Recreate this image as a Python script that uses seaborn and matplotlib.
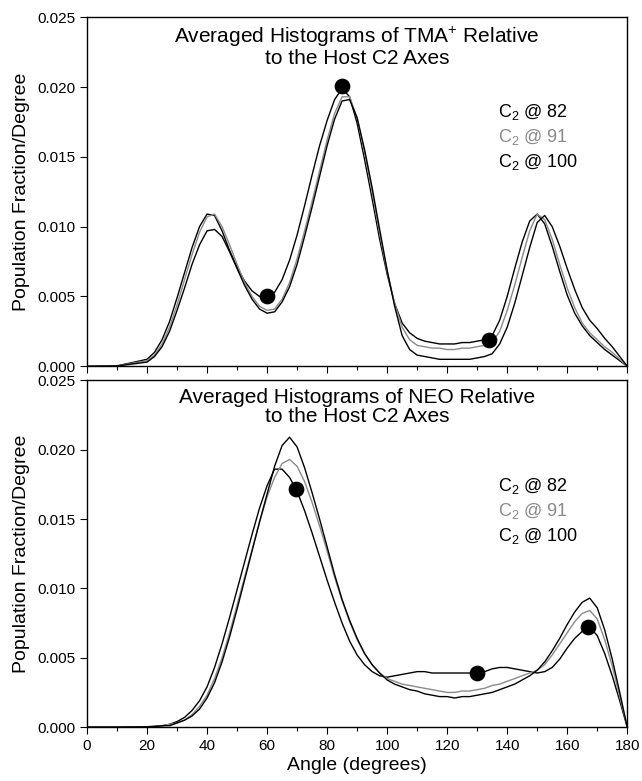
import numpy as np
import matplotlib
matplotlib.use("Agg")
import matplotlib.pyplot as plt
import seaborn as sns
from matplotlib.ticker import MultipleLocator

# angle grid (degrees)
angle = [0, 10] + [20 + 2.5 * i for i in range(65)]

# top panel: TMA+
tma_82 = [0, 0.00003, 0.0005, 0.0010, 0.0019, 0.0032, 0.0049, 0.0067, 0.0085, 0.0100,
          0.0109, 0.0108, 0.0097, 0.0083, 0.0071, 0.0061, 0.0054, 0.0050, 0.0049, 0.0053,
          0.0062, 0.0076, 0.0094, 0.0115, 0.0137, 0.0158, 0.0176, 0.0191, 0.0199, 0.0193,
          0.0174, 0.0148, 0.0120, 0.0091, 0.0066, 0.0045, 0.0031, 0.0024, 0.0020, 0.0018,
          0.0017, 0.0016, 0.0016, 0.0016, 0.0017, 0.0017, 0.0018, 0.0019, 0.0022, 0.0033,
          0.0050, 0.0070, 0.0089, 0.0104, 0.0109, 0.0102, 0.0086, 0.0068, 0.0051, 0.0038,
          0.0029, 0.0022, 0.0017, 0.0012, 0.0008, 0.0004, 0.0]
tma_91 = [0, 0.00002, 0.0004, 0.0008, 0.0016, 0.0028, 0.0044, 0.0062, 0.0080, 0.0096,
          0.0107, 0.0109, 0.0100, 0.0087, 0.0073, 0.0060, 0.0050, 0.0043, 0.0040, 0.0041,
          0.0048, 0.0060, 0.0077, 0.0097, 0.0118, 0.0140, 0.0162, 0.0181, 0.0193, 0.0193,
          0.0178, 0.0153, 0.0125, 0.0095, 0.0068, 0.0045, 0.0028, 0.0019, 0.0015, 0.0014,
          0.0013, 0.0013, 0.0012, 0.0012, 0.0013, 0.0013, 0.0014, 0.0015, 0.0017, 0.0025,
          0.0040, 0.0058, 0.0078, 0.0097, 0.0109, 0.0105, 0.0091, 0.0073, 0.0056, 0.0042,
          0.0031, 0.0024, 0.0019, 0.0014, 0.0010, 0.0005, 0.0]
tma_100 = [0, 0.00002, 0.0003, 0.0007, 0.0014, 0.0025, 0.0040, 0.0056, 0.0073, 0.0087,
           0.0097, 0.0098, 0.0093, 0.0082, 0.0070, 0.0058, 0.0048, 0.0041, 0.0038, 0.0039,
           0.0046, 0.0057, 0.0073, 0.0093, 0.0114, 0.0136, 0.0158, 0.0177, 0.0190, 0.0191,
           0.0178, 0.0155, 0.0128, 0.0098, 0.0069, 0.0043, 0.0022, 0.0012, 0.0008, 0.0007,
           0.0006, 0.0005, 0.0005, 0.0005, 0.0005, 0.0005, 0.0006, 0.0007, 0.0009, 0.0016,
           0.0028, 0.0045, 0.0065, 0.0085, 0.0103, 0.0108, 0.0100, 0.0086, 0.0070, 0.0055,
           0.0042, 0.0033, 0.0027, 0.0020, 0.0014, 0.0007, 0.0]
tma_dot_x = [60, 85, 134]
tma_dot_y = [0.0050, 0.0201, 0.0019]

# bottom panel: NEO
neo_82 = [0, 0, 0.00003, 0.00006, 0.0001, 0.0002, 0.0004, 0.0007, 0.0012, 0.0019,
          0.0029, 0.0043, 0.0060, 0.0079, 0.0099, 0.0119, 0.0139, 0.0158, 0.0174, 0.0186,
          0.0186, 0.0180, 0.0170, 0.0156, 0.0140, 0.0123, 0.0106, 0.0090, 0.0075, 0.0062,
          0.0052, 0.0045, 0.0040, 0.0037, 0.0036, 0.0037, 0.0038, 0.0039, 0.0040, 0.0040,
          0.0039, 0.0039, 0.0039, 0.0039, 0.0039, 0.0039, 0.0039, 0.0040, 0.0042, 0.0043,
          0.0043, 0.0042, 0.0041, 0.0040, 0.0039, 0.0040, 0.0043, 0.0049, 0.0057, 0.0064,
          0.0069, 0.0072, 0.0066, 0.0053, 0.0037, 0.0019, 0.0]
neo_91 = [0, 0, 0.00002, 0.00004, 0.0001, 0.0002, 0.0003, 0.0005, 0.0009, 0.0015,
          0.0023, 0.0035, 0.0050, 0.0068, 0.0088, 0.0108, 0.0128, 0.0148, 0.0166, 0.0180,
          0.0190, 0.0193, 0.0188, 0.0177, 0.0162, 0.0145, 0.0127, 0.0108, 0.0091, 0.0076,
          0.0063, 0.0053, 0.0045, 0.0039, 0.0035, 0.0033, 0.0031, 0.0030, 0.0029, 0.0028,
          0.0027, 0.0026, 0.0025, 0.0025, 0.0026, 0.0026, 0.0027, 0.0028, 0.0030, 0.0031,
          0.0033, 0.0035, 0.0037, 0.0039, 0.0041, 0.0045, 0.0052, 0.0060, 0.0068, 0.0076,
          0.0082, 0.0084, 0.0078, 0.0063, 0.0044, 0.0022, 0.0]
neo_100 = [0, 0, 0.00002, 0.00004, 0.0001, 0.0001, 0.0003, 0.0005, 0.0008, 0.0013,
           0.0021, 0.0032, 0.0047, 0.0065, 0.0085, 0.0106, 0.0127, 0.0148, 0.0168, 0.0188,
           0.0203, 0.0209, 0.0202, 0.0187, 0.0169, 0.0150, 0.0130, 0.0110, 0.0092, 0.0077,
           0.0064, 0.0053, 0.0045, 0.0039, 0.0034, 0.0031, 0.0029, 0.0027, 0.0026, 0.0024,
           0.0023, 0.0022, 0.0022, 0.0021, 0.0022, 0.0022, 0.0023, 0.0024, 0.0025, 0.0027,
           0.0029, 0.0031, 0.0034, 0.0037, 0.0041, 0.0047, 0.0055, 0.0064, 0.0074, 0.0083,
           0.0090, 0.0093, 0.0086, 0.0070, 0.0049, 0.0025, 0.0]
neo_dot_x = [69.5, 130, 167]
neo_dot_y = [0.0172, 0.0039, 0.0072]

legend_labels = ["C$_2$ @ 82", "C$_2$ @ 91", "C$_2$ @ 100"]
line_colors = ["black", "#8a8a8a", "black"]

sns.set_style("ticks")
plt.rcParams["font.family"] = ["Liberation Sans", "DejaVu Sans"]
plt.rcParams["mathtext.default"] = "regular"
plt.rcParams["text.color"] = "black"
plt.rcParams["axes.labelcolor"] = "black"
plt.rcParams["xtick.color"] = "black"
plt.rcParams["ytick.color"] = "black"

fig = plt.figure(figsize=(6.42, 7.81), dpi=100)
ax_top = fig.add_axes([0.1355, 0.531, 0.8415, 0.447])
ax_bot = fig.add_axes([0.1355, 0.069, 0.8415, 0.444])

panels = [
    (ax_top, [tma_82, tma_91, tma_100], tma_dot_x, tma_dot_y,
     "Averaged Histograms of TMA$^{+}$ Relative\nto the Host C2 Axes", [0.0182, 0.0164, 0.0146]),
    (ax_bot, [neo_82, neo_91, neo_100], neo_dot_x, neo_dot_y,
     "Averaged Histograms of NEO Relative\nto the Host C2 Axes", [0.0174, 0.0156, 0.0138]),
]

for ax, curves, dx, dy, title, leg_y in panels:
    for vals, col in zip(curves, line_colors):
        sns.lineplot(x=angle, y=vals, ax=ax, color=col, lw=1.0)
    sns.scatterplot(x=dx, y=dy, ax=ax, color="black", s=110, edgecolor="black", zorder=5)
    ax.set_xlim(0, 180)
    ax.set_ylim(0, 0.025)
    ax.xaxis.set_major_locator(MultipleLocator(20))
    ax.xaxis.set_minor_locator(MultipleLocator(10))
    ax.yaxis.set_major_locator(MultipleLocator(0.005))
    ax.yaxis.set_major_formatter(matplotlib.ticker.FormatStrFormatter("%.3f"))
    ax.tick_params(axis="both", which="major", direction="out", length=5, width=0.8,
                   labelsize=11, color="black", labelcolor="black")
    ax.tick_params(axis="x", which="minor", direction="out", length=3, width=0.8)
    for sp in ax.spines.values():
        sp.set_visible(True)
        sp.set_linewidth(1.0)
        sp.set_color("black")
    ax.set_ylabel("Population Fraction/Degree", fontsize=14, labelpad=5)
    ax.set_xlabel("")
    ax.text(0.5, 0.978, title, transform=ax.transAxes, ha="center", va="top",
            fontsize=15, linespacing=1.0)
    for lbl, col, yy in zip(legend_labels, line_colors, leg_y):
        ax.text(137, yy, lbl, ha="left", va="center", fontsize=13, color=col)

ax_top.tick_params(axis="x", labelbottom=False)
ax_bot.set_xlabel("Angle (degrees)", fontsize=14, labelpad=3)

fig.savefig("out.png", dpi=100)
